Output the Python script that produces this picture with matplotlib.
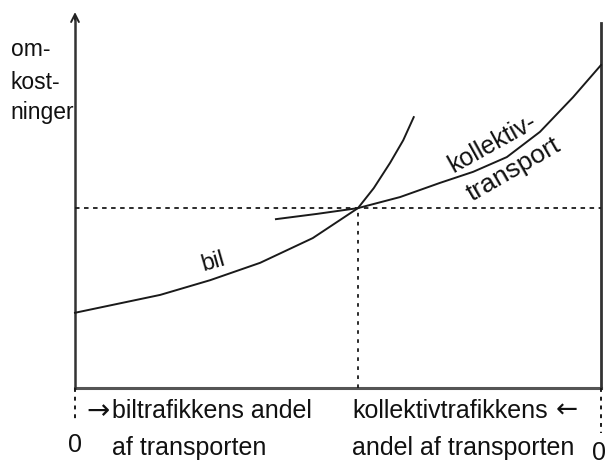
import matplotlib
matplotlib.use("Agg")
import matplotlib.pyplot as plt

# Data (x: share of transport 0..100, y: costs)
bil_x = [0, 16.2, 25.7, 35.2, 45.2, 53.8, 56.8, 59.9, 62.4, 64.4]
bil_y = [14.3, 17.7, 20.5, 23.8, 28.5, 34.2, 38.0, 42.8, 47.1, 51.5]
kol_x = [38.2, 46.0, 53.8, 61.8, 69.4, 75.7, 82.1, 88.4, 94.7, 100]
kol_y = [32.1, 33.1, 34.2, 36.3, 39.0, 41.1, 43.9, 48.7, 55.3, 61.4]
eq_x = 53.8
eq_y = 34.2

y_label = ["om-", "kost-", "ninger"]
bottom_left = ["biltrafikkens andel", "af transporten"]
bottom_right = ["kollektivtrafikkens", "andel af transporten"]
curve_labels = ["bil", "kollektiv-", "transport"]

plt.rcParams['font.family'] = ['Liberation Sans', 'DejaVu Sans']

W, H = 609, 470
fig = plt.figure(figsize=(W / 100, H / 100), dpi=100)
ax = fig.add_axes([75 / W, (470 - 388) / H, 526 / W, 380 / H])
ax.set_xlim(0, 100)
ax.set_ylim(0, 380 / 5.26)
ax.axis('off')

col = '#1a1a1a'
tcol = '#111111'
# axes
ax.plot([0, 100], [0, 0], color='#555555', lw=2.2, clip_on=False)
ax.plot([0, 0], [0, 70.5], color='#333333', lw=1.8, clip_on=False)
ax.annotate('', xy=(0, 72.0), xytext=(0, 69.5),
            arrowprops=dict(arrowstyle='->', color='#222222', lw=1.4,
                            mutation_scale=14), annotation_clip=False)
ax.plot([100, 100], [0, 69.4], color='#333333', lw=2.0, clip_on=False)
# dashed extensions below
ax.plot([0, 0], [0, -6.7], color=col, lw=1.4, ls=(0, (2, 2.5)), clip_on=False)
ax.plot([100, 100], [0, -8.6], color=col, lw=1.4, ls=(0, (2, 2.5)), clip_on=False)

# reference dashed lines
ax.plot([0, 100], [eq_y, eq_y], color=col, lw=1.3, ls=(0, (2.5, 2.5)), clip_on=False)
ax.plot([eq_x, eq_x], [0, eq_y], color=col, lw=1.3, ls=(0, (2, 3)), clip_on=False)

# curves
ax.plot(bil_x, bil_y, color=col, lw=1.4, clip_on=False)
ax.plot(kol_x, kol_y, color=col, lw=1.4, clip_on=False)

# y label
for t, yy in zip(y_label, [64.4, 58.0, 52.3]):
    ax.text(-12.2, yy, t, fontsize=16.5, color=tcol, ha='left', va='center', clip_on=False)

# curve labels
ax.text(26.2, 23.9, curve_labels[0], fontsize=17, color=tcol, rotation=16,
        ha='center', va='center', rotation_mode='anchor')
ax.text(79.3, 46.6, curve_labels[1], fontsize=18, color=tcol, rotation=29,
        ha='center', va='center', rotation_mode='anchor')
ax.text(83.4, 41.6, curve_labels[2], fontsize=19, color=tcol, rotation=30,
        ha='center', va='center', rotation_mode='anchor')

# bottom labels
fsb = 18
ax.text(2.2, -4.3, "\u2192", fontsize=20, color=tcol, ha='left', va='center',
        clip_on=False, family=['DejaVu Sans'])
ax.text(7.1, -4.4, bottom_left[0], fontsize=fsb, color=tcol, ha='left', va='center', clip_on=False)
ax.text(7.1, -11.4, bottom_left[1], fontsize=fsb, color=tcol, ha='left', va='center', clip_on=False)
ax.text(52.7, -4.4, bottom_right[0], fontsize=fsb, color=tcol, ha='left', va='center', clip_on=False)
ax.text(95.6, -4.3, "\u2190", fontsize=19, color=tcol, ha='right', va='center',
        clip_on=False, family=['DejaVu Sans'])
ax.text(52.7, -11.4, bottom_right[1], fontsize=fsb, color=tcol, ha='left', va='center', clip_on=False)
ax.text(0, -10.8, "0", fontsize=fsb, color=tcol, ha='center', va='center', clip_on=False)
ax.text(99.6, -12.3, "0", fontsize=fsb, color=tcol, ha='center', va='center', clip_on=False)

fig.savefig("out.png", dpi=100, facecolor='white')
